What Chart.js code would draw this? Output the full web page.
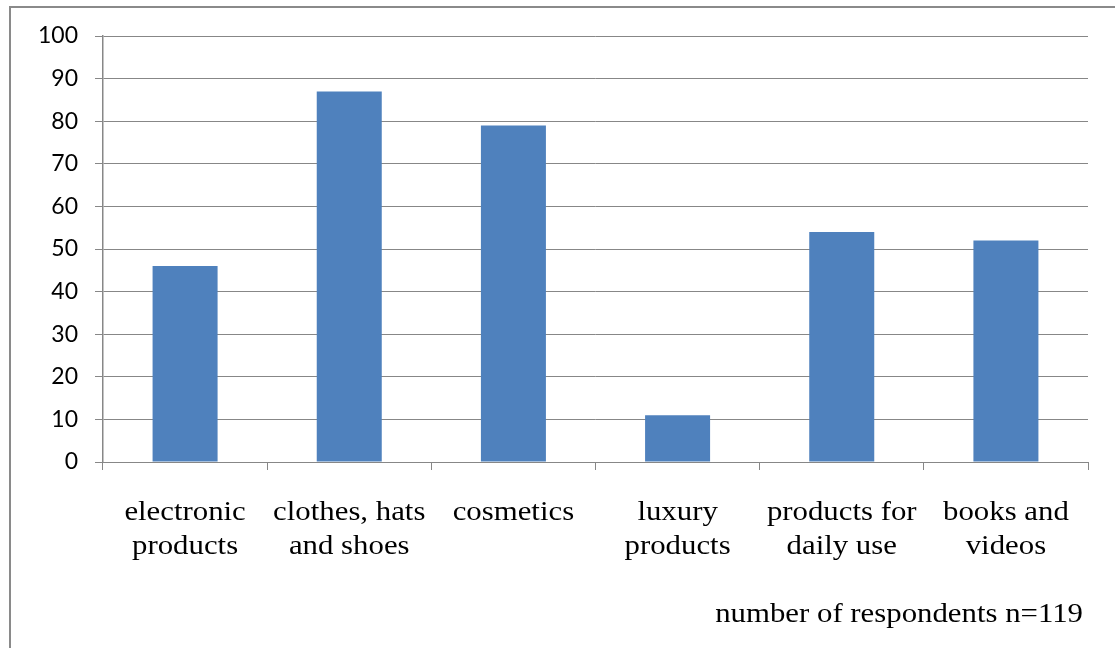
<!DOCTYPE html>
<html>
<head>
<meta charset="utf-8">
<script src="https://cdn.jsdelivr.net/npm/chart.js@4.4.1/dist/chart.umd.min.js"></script>
<style>
  html, body { margin: 0; padding: 0; background: #fff; }
  #wrap { width: 1115px; height: 648px; position: relative; }
</style>
</head>
<body>
<div id="wrap"><canvas id="chart"></canvas></div>
<script>
// data
const categories = [
  ["electronic", "products"],
  ["clothes, hats", "and shoes"],
  ["cosmetics"],
  ["luxury", "products"],
  ["products for", "daily use"],
  ["books and", "videos"]
];
const respondents = [46, 87, 79, 11, 54, 52];
const yTicks = [0, 10, 20, 30, 40, 50, 60, 70, 80, 90, 100];
const footnote = "number of respondents n=119";

const GRID = "#878787";
const SERIF = "27.5px 'Liberation Serif', 'Times New Roman', serif";
const STRETCH = 1.12; // reference text is drawn a bit wide

// outer frame (only left and top edges are visible in the picture)
const framePlugin = {
  id: "frame",
  beforeDraw(chart) {
    const ctx = chart.ctx;
    ctx.save();
    ctx.strokeStyle = "#8a8a8a";
    ctx.lineWidth = 2;
    ctx.beginPath();
    ctx.moveTo(10, 648);
    ctx.lineTo(10, 7);
    ctx.lineTo(1115, 7);
    ctx.stroke();
    ctx.restore();
  }
};

// category labels and footnote, in serif, centred on the category scale
const labelPlugin = {
  id: "serifLabels",
  afterDraw(chart) {
    const ctx = chart.ctx;
    const xs = chart.scales.x;
    ctx.save();
    ctx.font = SERIF;
    ctx.fillStyle = "#000";
    ctx.textBaseline = "alphabetic";
    categories.forEach((lines, i) => {
      const x = xs.getPixelForValue(i);
      lines.forEach((txt, j) => {
        ctx.save();
        ctx.translate(x, 520 + j * 34);
        ctx.scale(STRETCH, 1);
        ctx.textAlign = "center";
        ctx.fillText(txt, 0, 0);
        ctx.restore();
      });
    });
    ctx.save();
    ctx.translate(1083, 622);
    ctx.scale(STRETCH, 1);
    ctx.textAlign = "right";
    ctx.fillText(footnote, 0, 0);
    ctx.restore();
    ctx.restore();
  }
};

new Chart(document.getElementById("chart"), {
  type: "bar",
  data: {
    labels: categories.map(c => c.join(" ")),
    datasets: [{
      data: respondents,
      backgroundColor: "#4F81BD",
      borderWidth: 0,
      categoryPercentage: 1,
      barPercentage: 0.396
    }]
  },
  options: {
    responsive: true,
    maintainAspectRatio: false,
    animation: false,
    events: [],
    layout: { padding: { left: 0, top: 36, right: 27, bottom: 0 } },
    plugins: {
      legend: { display: false },
      tooltip: { enabled: false }
    },
    scales: {
      x: {
        offset: true,
        grid: {
          offset: true,
          drawOnChartArea: false,
          drawTicks: true,
          tickLength: 8,
          color: GRID,
          lineWidth: 1
        },
        border: { display: true, color: GRID, width: 1 },
        ticks: { display: false },
        afterFit(scale) { scale.height = 648 - 462; }
      },
      y: {
        min: 0,
        max: 100,
        afterBuildTicks(scale) { scale.ticks = yTicks.map(v => ({ value: v })); },
        grid: { color: GRID, lineWidth: 1, tickLength: 8 },
        border: { display: true, color: GRID, width: 1.5 },
        ticks: {
          padding: 17,
          color: "#000",
          font: { family: "Lato, 'Open Sans', sans-serif", size: 23 }
        },
        afterFit(scale) { scale.width = 103; }
      }
    }
  },
  plugins: [framePlugin, labelPlugin]
});
</script>
</body>
</html>
